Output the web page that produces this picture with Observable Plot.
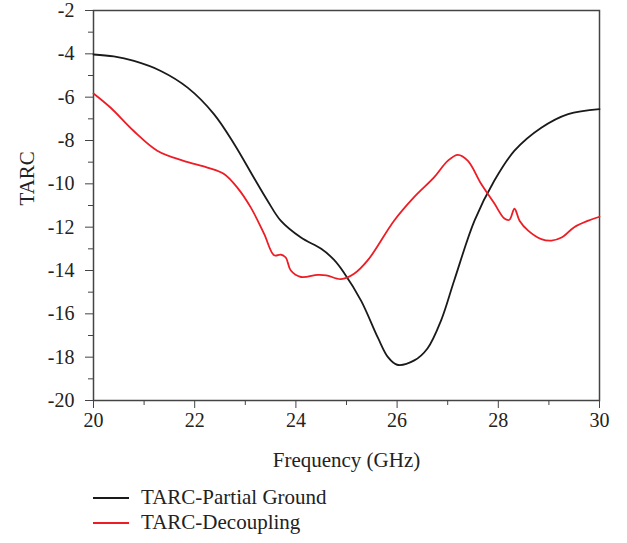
<!DOCTYPE html>
<html><head><meta charset="utf-8">
<script src="https://cdn.jsdelivr.net/npm/d3@7"></script>
<script src="https://cdn.jsdelivr.net/npm/@observablehq/plot@0.6"></script>
<style>
body{margin:0;background:#fff;font-family:"Liberation Serif",serif;}
#legend{position:absolute;left:93px;top:485px;font-size:21px;color:#222;font-family:"Liberation Serif",serif;}
.item{display:flex;align-items:center;height:25px;}
.sw{width:36px;height:0;border-top:2px solid;margin-right:12px;}
svg text{font-family:"Liberation Serif",serif;}
</style></head>
<body><div id="chart"></div>
<div id="legend"></div>
<script>
const seriesNames = ["TARC-Partial Ground", "TARC-Decoupling"];
const seriesColors = ["#1a1a1a", "#ee1c24"];
const pgFreq = [20, 20.4, 20.8, 21.33, 21.86, 22.38, 22.78, 23.17, 23.44, 23.7, 24.1, 24.5, 24.75, 24.95, 25.29, 25.62, 25.82, 26.0, 26.34, 26.6, 26.87, 27.13, 27.53, 27.92, 28.32, 28.85, 29.38, 30];
const pgTarc = [-4.03, -4.12, -4.33, -4.79, -5.56, -6.78, -8.16, -9.72, -10.78, -11.7, -12.48, -13.0, -13.5, -14.1, -15.4, -17.1, -18.0, -18.35, -18.15, -17.6, -16.3, -14.45, -11.7, -9.86, -8.47, -7.41, -6.78, -6.55];
const decFreq = [20, 20.34, 20.79, 21.26, 21.78, 22.25, 22.58, 22.85, 23.11, 23.37, 23.57, 23.7, 23.8, 23.9, 24.1, 24.43, 24.6, 24.89, 25.15, 25.43, 25.94, 26.34, 26.73, 27.0, 27.2, 27.4, 27.66, 27.92, 28.12, 28.22, 28.32, 28.42, 28.59, 28.85, 29.05, 29.25, 29.5, 29.78, 30];
const decTarc = [-5.83, -6.49, -7.55, -8.47, -8.94, -9.25, -9.55, -10.2, -11.1, -12.3, -13.3, -13.27, -13.4, -14.0, -14.3, -14.2, -14.22, -14.4, -14.15, -13.5, -11.7, -10.6, -9.7, -8.94, -8.66, -8.94, -10.0, -10.9, -11.6, -11.66, -11.15, -11.7, -12.16, -12.55, -12.62, -12.48, -12.0, -11.7, -11.52];
const xMajor = [20, 22, 24, 26, 28, 30];
const xMinor = [21, 23, 25, 27, 29];
const yMajor = [-2, -4, -6, -8, -10, -12, -14, -16, -18, -20];
const yMinor = [-3, -5, -7, -9, -11, -13, -15, -17, -19];

const rows = [];
pgFreq.forEach((f, i) => rows.push({f, v: pgTarc[i], s: seriesNames[0]}));
decFreq.forEach((f, i) => rows.push({f, v: decTarc[i], s: seriesNames[1]}));

const ax = "#444";
const chart = Plot.plot({
  width: 627, height: 475,
  marginLeft: 93, marginRight: 28, marginTop: 10, marginBottom: 75,
  style: {fontFamily: "Liberation Serif, serif", fontSize: "20px", color: "#222", overflow: "visible"},
  x: {domain: [20, 30]},
  y: {domain: [-20, -2]},
  color: {domain: seriesNames, range: seriesColors},
  marks: [
    Plot.axisX({ticks: xMajor, tickSize: 8, tickPadding: 4, stroke: ax, fontSize: 20, label: null, tickFormat: d => d}),
    Plot.axisX({ticks: xMinor, tickSize: 5, stroke: ax, text: null, label: null}),
    Plot.axisY({ticks: yMajor, tickSize: 8, tickPadding: 11, stroke: ax, fontSize: 20, label: null, tickFormat: d => String(d)}),
    Plot.axisY({ticks: yMinor, tickSize: 5, stroke: ax, text: null, label: null}),
    Plot.text(["Frequency (GHz)"], {frameAnchor: "bottom", dy: 66, fontSize: 21, lineAnchor: "bottom", fill: "#222"}),
    Plot.text(["TARC"], {frameAnchor: "left", dx: -60, rotate: -90, fontSize: 21, lineAnchor: "bottom", fill: "#222"}),
    Plot.frame({stroke: ax, strokeWidth: 1.5}),
    Plot.line(rows, {x: "f", y: "v", z: "s", stroke: "s", strokeWidth: 1.8, curve: "catmull-rom"})
  ]
});
document.getElementById("chart").appendChild(chart);
const lg = document.getElementById("legend");
seriesNames.forEach((n, i) => {
  const d = document.createElement("div"); d.className = "item";
  const sw = document.createElement("span"); sw.className = "sw"; sw.style.borderColor = seriesColors[i];
  const t = document.createElement("span"); t.textContent = n;
  d.appendChild(sw); d.appendChild(t); lg.appendChild(d);
});
</script></body></html>
